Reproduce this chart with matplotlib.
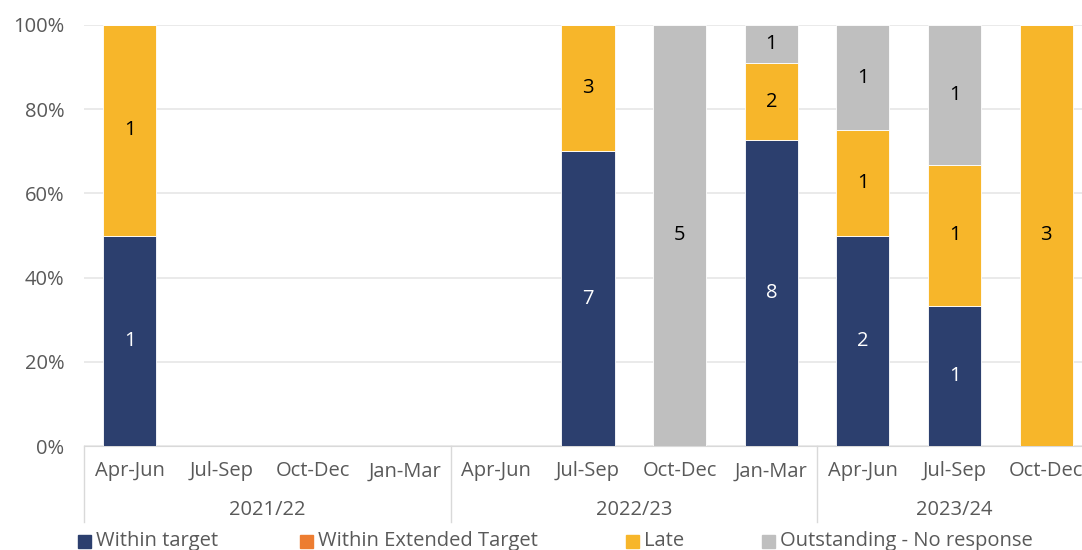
import matplotlib
matplotlib.use("Agg")
import matplotlib.pyplot as plt
from matplotlib.patches import Rectangle
import numpy as np

plt.rcParams['font.family'] = ['Open Sans', 'DejaVu Sans']

quarters = ["Apr-Jun", "Jul-Sep", "Oct-Dec", "Jan-Mar",
            "Apr-Jun", "Jul-Sep", "Oct-Dec", "Jan-Mar",
            "Apr-Jun", "Jul-Sep", "Oct-Dec"]
years = ["2021/22", "2022/23", "2023/24"]
year_sizes = [4, 4, 3]

within_target = [1, 0, 0, 0, 0, 7, 0, 8, 2, 1, 0]
within_extended = [0, 0, 0, 0, 0, 0, 0, 0, 0, 0, 0]
late = [1, 0, 0, 0, 0, 3, 0, 2, 1, 1, 3]
outstanding = [0, 0, 0, 0, 0, 0, 5, 1, 1, 1, 0]

series_names = ["Within target", "Within Extended Target", "Late", "Outstanding - No response"]
colors = ["#2C3F6E", "#ED7D31", "#F7B62A", "#BFBFBF"]
label_colors = ["white", "black", "black", "black"]

FS = 14.5
W, H = 1082, 550
fig = plt.figure(figsize=(W / 100, H / 100), dpi=100)
# axes run past the right edge like the reference crop
ax = fig.add_axes([84 / W, 104 / H, (1092 - 84) / W, (446 - 25) / H])

data = np.array([within_target, within_extended, late, outstanding], dtype=float)
totals = data.sum(axis=0)
pct = np.divide(data, totals, out=np.zeros_like(data), where=totals > 0) * 100

x = np.arange(len(quarters))
bottom = np.zeros(len(quarters))
for i in range(4):
    ax.bar(x, pct[i], 0.58, bottom=bottom, color=colors[i], edgecolor="white",
           linewidth=0.6, zorder=3)
    for j in range(len(quarters)):
        if data[i, j] > 0:
            ax.text(x[j], bottom[j] + pct[i, j] / 2, "%d" % data[i, j], ha="center",
                    va="center", fontsize=FS, color=label_colors[i], zorder=4)
    bottom += pct[i]

ax.set_xlim(-0.5, len(quarters) - 0.5)
ax.set_ylim(0, 100)
ax.set_yticks(range(0, 101, 20))
ax.set_yticklabels(["%d%%" % v for v in range(0, 101, 20)], fontsize=FS, color="#595959")
ax.tick_params(axis="y", length=0, pad=14)
ax.set_xticks([])
ax.yaxis.grid(True, color="#E6E6E6", linewidth=1.2, zorder=0)
for s in ["top", "right", "left"]:
    ax.spines[s].set_visible(False)
ax.spines["bottom"].set_color("#D9D9D9")

# two-level category axis
for j, q in enumerate(quarters):
    ax.text(j, -6.0, q, ha="center", va="center", fontsize=FS, color="#595959",
            clip_on=False)
start = 0
seps = [-0.5]
for y, n in zip(years, year_sizes):
    ax.text(start + (n - 1) / 2, -15.2, y, ha="center", va="center", fontsize=FS,
            color="#595959", clip_on=False)
    start += n
    seps.append(start - 0.5)
for s in seps:
    ax.plot([s, s], [0, -18], color="#D9D9D9", linewidth=1, clip_on=False)

# legend
leg_x = [78, 300, 626, 762]
for name, c, lx in zip(series_names, colors, leg_x):
    fig.patches.append(Rectangle((lx / W, 1 - 548 / H), 13 / W, 13 / H, color=c,
                                 transform=fig.transFigure))
    fig.text((lx + 18) / W, 1 - 541 / H, name, ha="left", va="center", fontsize=FS,
             color="#595959")

fig.savefig("out.png", dpi=100)
